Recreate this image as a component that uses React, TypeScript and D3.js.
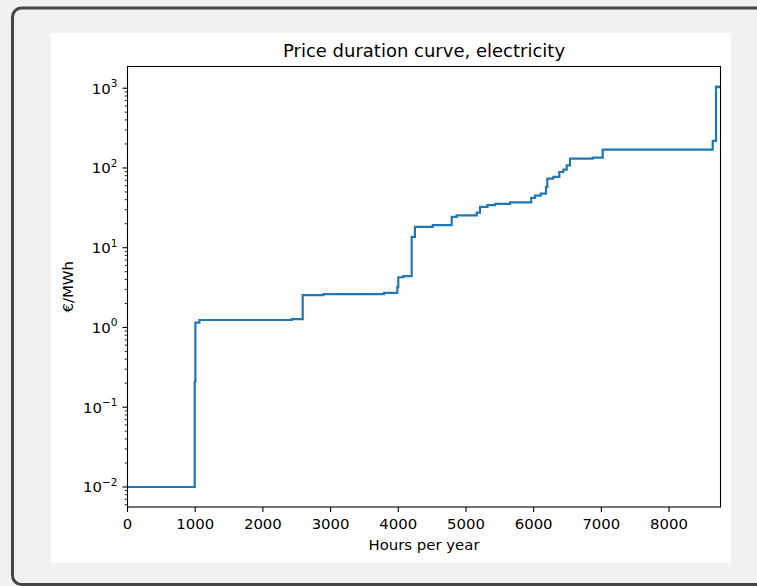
import { useEffect, useRef } from 'react'
import * as d3 from 'd3'

// step starts (hour of year) and price level held from that hour on
const stepHours = [
  0, 993, 1003, 1062, 2426, 2588, 2893, 3789, 3986, 4000, 4075, 4198, 4246,
  4509, 4789, 4863, 5159, 5208, 5316, 5429, 5651, 5964, 6020, 6104, 6182,
  6202, 6290, 6379, 6438, 6488, 6537, 6872, 7020, 8645, 8694, 8728,
]
const stepPrices = [
  0.01, 0.21, 1.15, 1.24, 1.27, 2.54, 2.62, 2.71, 3.2, 4.26, 4.4, 13.7, 18.3,
  19.2, 24.4, 25.5, 27.5, 32.5, 34.2, 35.5, 37.1, 42.2, 44.9, 47.8, 57.9,
  73.7, 77.2, 89, 95.5, 108, 131, 135, 170, 218, 1050, 1030,
]
const HOURS_END = 8760

const xTicks = [0, 1000, 2000, 3000, 4000, 5000, 6000, 7000, 8000]
const yExponents = [-2, -1, 0, 1, 2, 3]

const W = 757
const H = 586
const FONT = "'DejaVu Sans', sans-serif"

export default function App() {
  const svgRef = useRef<SVGSVGElement>(null)

  useEffect(() => {
    if (!svgRef.current) return
    const svg = d3.select(svgRef.current)
    svg.selectAll('*').remove()

    // page frame
    svg.append('rect').attr('width', W).attr('height', H).attr('fill', '#f1f1f1')
    svg
      .append('rect')
      .attr('x', 12.5)
      .attr('y', 8)
      .attr('width', 780)
      .attr('height', 576.5)
      .attr('rx', 9)
      .attr('fill', '#f1f1f1')
      .attr('stroke', '#454545')
      .attr('stroke-width', 3)
    svg
      .append('rect')
      .attr('x', 51)
      .attr('y', 33)
      .attr('width', 680)
      .attr('height', 530)
      .attr('fill', '#ffffff')

    const left = 127.5
    const right = 720.5
    const top = 66.5
    const bottom = 507

    const x = d3.scaleLinear().domain([0, HOURS_END]).range([left, right])
    const logMin = -2
    const logMax = Math.log10(1050)
    const pad = (logMax - logMin) * 0.05
    const y = d3
      .scaleLog()
      .domain([10 ** (logMin - pad), 10 ** (logMax + pad)])
      .range([bottom, top])

    const pts: [number, number][] = stepHours.map((h, i) => [h, stepPrices[i]])
    pts.push([HOURS_END, stepPrices[stepPrices.length - 1]])

    svg
      .append('defs')
      .append('clipPath')
      .attr('id', 'plot-clip')
      .append('rect')
      .attr('x', left)
      .attr('y', top)
      .attr('width', right - left)
      .attr('height', bottom - top)

    const line = d3
      .line<[number, number]>()
      .x((d) => x(d[0]))
      .y((d) => y(d[1]))
      .curve(d3.curveStepAfter)

    svg
      .append('path')
      .datum(pts)
      .attr('clip-path', 'url(#plot-clip)')
      .attr('d', line)
      .attr('fill', 'none')
      .attr('stroke', '#1f77b4')
      .attr('stroke-width', 2.2)
      .attr('stroke-linejoin', 'miter')

    // axes frame
    svg
      .append('rect')
      .attr('x', left)
      .attr('y', top)
      .attr('width', right - left)
      .attr('height', bottom - top)
      .attr('fill', 'none')
      .attr('stroke', '#000')
      .attr('stroke-width', 1.1)

    // x ticks
    const xg = svg.append('g')
    xTicks.forEach((t) => {
      const px = x(t)
      xg.append('line')
        .attr('x1', px).attr('x2', px)
        .attr('y1', bottom).attr('y2', bottom + 5)
        .attr('stroke', '#000').attr('stroke-width', 1.1)
      xg.append('text')
        .attr('x', px)
        .attr('y', bottom + 21.5)
        .attr('text-anchor', 'middle')
        .attr('font-family', FONT)
        .attr('font-size', 14.9)
        .attr('fill', '#000')
        .text(String(t))
    })

    // y ticks (log, major + minor)
    const yg = svg.append('g')
    const [d0, d1] = y.domain()
    for (let e = -3; e <= 4; e++) {
      for (let m = 1; m <= 9; m++) {
        const v = m * 10 ** e
        if (v < d0 || v > d1) continue
        const py = y(v)
        const major = m === 1
        yg.append('line')
          .attr('x1', left).attr('x2', left - (major ? 5 : 2.9))
          .attr('y1', py).attr('y2', py)
          .attr('stroke', '#000')
          .attr('stroke-width', major ? 1.1 : 0.8)
      }
    }
    yExponents.forEach((e) => {
      const py = y(10 ** e)
      const t = yg
        .append('text')
        .attr('x', left - 10)
        .attr('y', py + 5.5)
        .attr('text-anchor', 'end')
        .attr('font-family', FONT)
        .attr('font-size', 14.9)
        .attr('fill', '#000')
      t.append('tspan').text('10')
      t.append('tspan')
        .attr('font-size', 10.5)
        .attr('dy', -6.5)
        .text(e < 0 ? `\u2212${-e}` : String(e))
    })

    // labels
    svg
      .append('text')
      .attr('x', (left + right) / 2)
      .attr('y', 57)
      .attr('text-anchor', 'middle')
      .attr('font-family', FONT)
      .attr('font-size', 18)
      .attr('fill', '#000')
      .text('Price duration curve, electricity')

    svg
      .append('text')
      .attr('x', (left + right) / 2)
      .attr('y', 550)
      .attr('text-anchor', 'middle')
      .attr('font-family', FONT)
      .attr('font-size', 14.9)
      .attr('fill', '#000')
      .text('Hours per year')

    svg
      .append('text')
      .attr('transform', `translate(73,${(top + bottom) / 2}) rotate(-90)`)
      .attr('text-anchor', 'middle')
      .attr('font-family', FONT)
      .attr('font-size', 14.9)
      .attr('fill', '#000')
      .text('€/MWh')
  }, [])

  return (
    <svg
      ref={svgRef}
      width={W}
      height={H}
      style={{ position: 'absolute', left: 0, top: 0, display: 'block' }}
    />
  )
}
